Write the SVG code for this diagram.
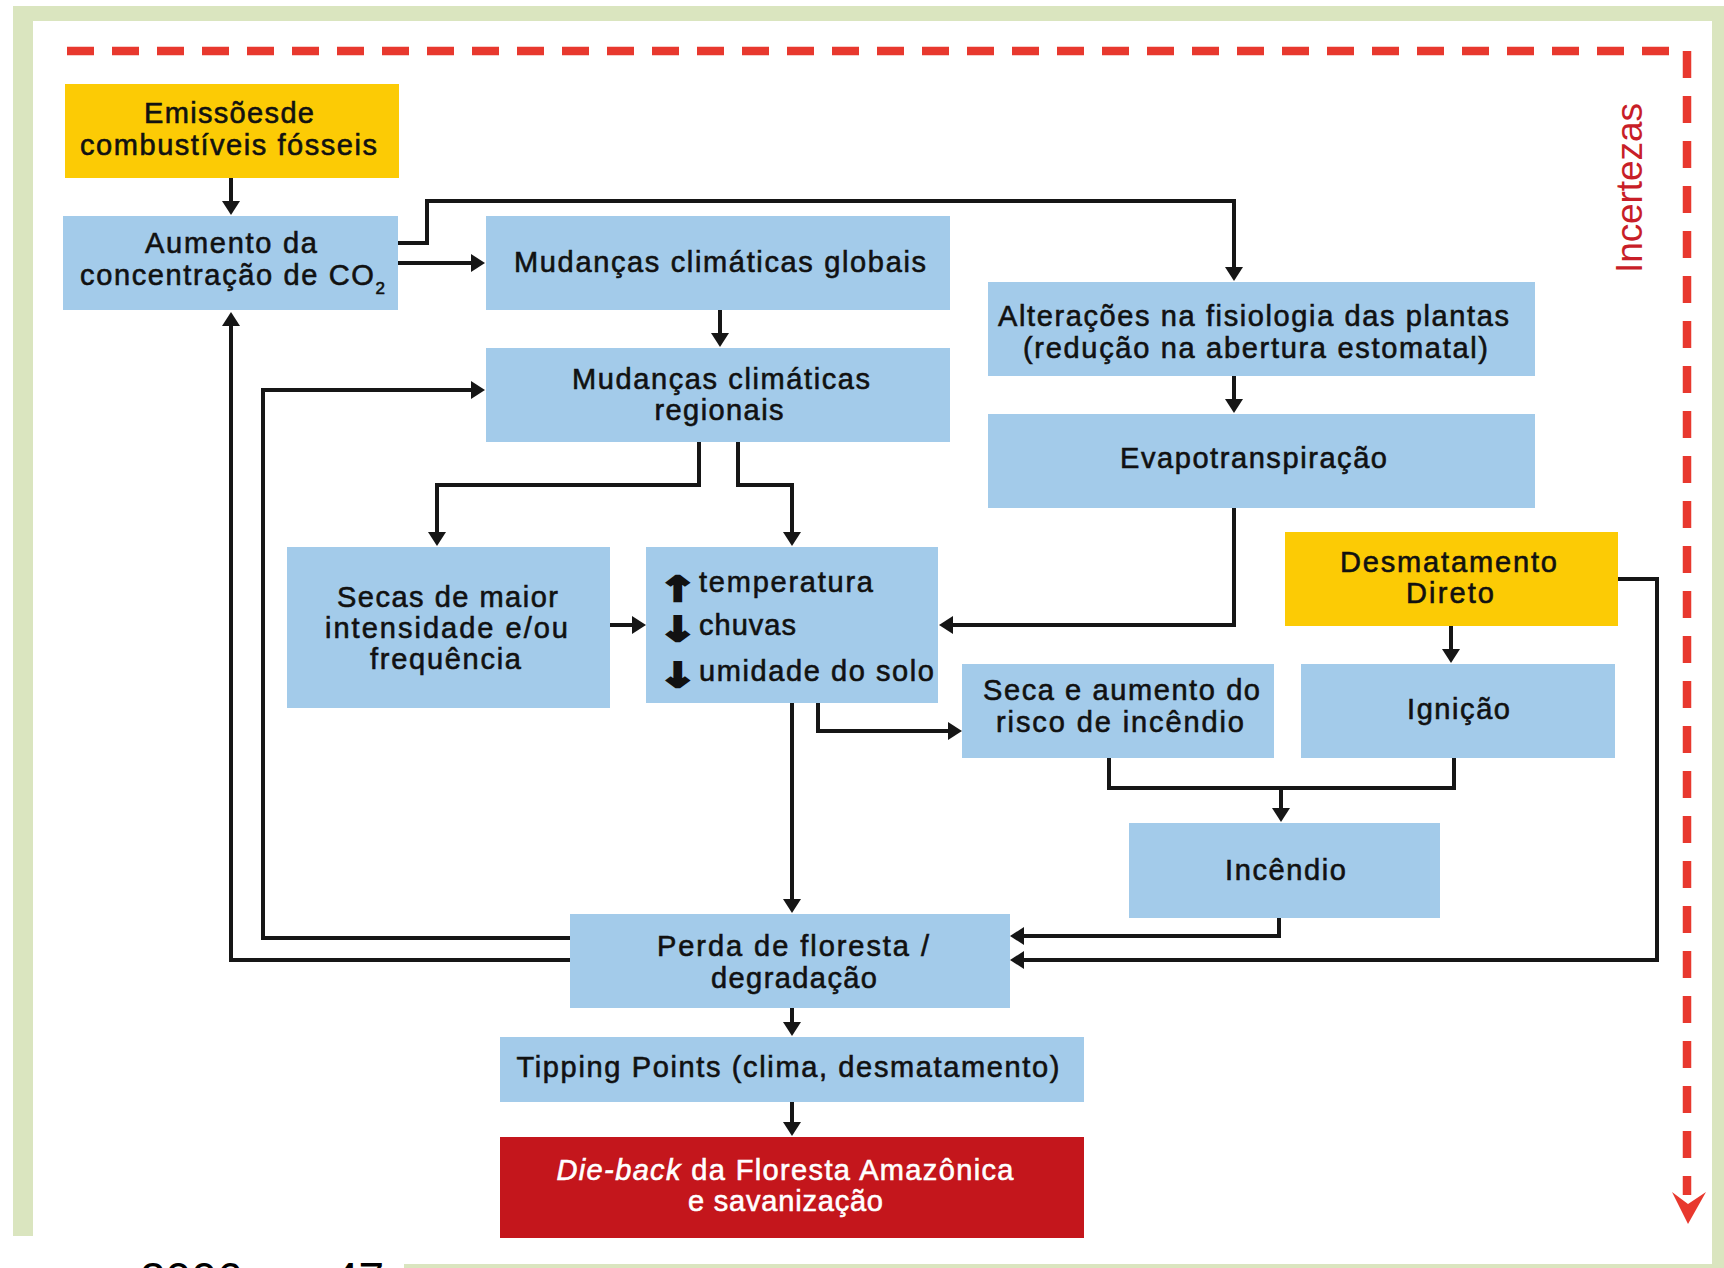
<svg xmlns="http://www.w3.org/2000/svg" width="1724" height="1268" viewBox="0 0 1724 1268">
<defs>
<style>
.blue{fill:#A3CBEA}
.yel{fill:#FCCB05}
.redbox{fill:#C4161C}
.frame{fill:#DAE5BF}
.t{font-family:"Liberation Sans",Arial,sans-serif;font-size:29px;fill:#111;stroke:#111;stroke-width:0.6px;text-anchor:middle}
.ts{font-family:"Liberation Sans",Arial,sans-serif;font-size:29px;fill:#111;stroke:#111;stroke-width:0.6px;text-anchor:start}
.wt{fill:#fff;stroke:#fff}
.arw{font-family:"DejaVu Sans",sans-serif;font-weight:bold;font-size:34px;fill:#111;stroke:#111;stroke-width:2.5px;text-anchor:middle}
.c{fill:none;stroke:#161616;stroke-width:4;stroke-linejoin:miter;stroke-linecap:butt}
.a{marker-end:url(#ah)}
.unc{fill:none;stroke:#E8382E;stroke-width:8.5;stroke-dasharray:27 18}
.inc{font-family:"Liberation Sans",Arial,sans-serif;font-size:37px;fill:#C81E28}
.foot{font-family:"Liberation Sans",Arial,sans-serif;font-size:46px;fill:#000}
</style>
<marker id="ah" markerUnits="userSpaceOnUse" markerWidth="14" markerHeight="18" viewBox="0 0 14 18" refX="6" refY="9" orient="auto">
<path d="M0,0 L14,9 L0,18 Z" fill="#161616"/>
</marker>
</defs>

<g id="frame">
<rect class="frame" x="13" y="6" width="1711" height="15"/>
<rect class="frame" x="13" y="6" width="20" height="1230"/>
<rect class="frame" x="1712" y="6" width="12" height="1262"/>
<rect class="frame" x="404" y="1264" width="1320" height="4"/>
</g>

<g id="incertezas">
<path class="unc" d="M67,51 H1687 V1195"/>
<polygon points="1672,1192 1688,1204 1706,1192 1688,1224" fill="#E8382E"/>
<text class="inc" transform="translate(1642,273) rotate(-90)" x="0" y="0" textLength="170" lengthAdjust="spacing">Incertezas</text>
</g>

<g id="connectors">
<path class="c a" d="M231,178 V207"/>
<path class="c a" d="M397,263 H477"/>
<path class="c a" d="M397,243 H427 V201 H1234 V273"/>
<path class="c a" d="M720,310 V339"/>
<path class="c a" d="M699,442 V485 H437 V538"/>
<path class="c a" d="M738,442 V485 H792 V538"/>
<path class="c a" d="M1234,376 V405"/>
<path class="c a" d="M1234,508 V625 H947"/>
<path class="c a" d="M610,625 H638"/>
<path class="c a" d="M818,703 V731 H954"/>
<path class="c a" d="M792,703 V905"/>
<path class="c" d="M1109,758 V788 H1454 V758"/>
<path class="c a" d="M1281,788 V814"/>
<path class="c a" d="M1451,626 V655"/>
<path class="c a" d="M1279,918 V936 H1018"/>
<path class="c a" d="M1618,579 H1657 V960 H1018"/>
<path class="c a" d="M570,960 H231 V320"/>
<path class="c a" d="M570,938 H263 V390 H477"/>
<path class="c a" d="M792,1008 V1028"/>
<path class="c a" d="M792,1102 V1128"/>
</g>

<g id="emissoes">
<rect class="yel" x="65" y="84" width="334" height="94"/>
<text class="t" x="229" y="123" textLength="170" lengthAdjust="spacing">Emissõesde</text>
<text class="t" x="228.5" y="155" textLength="297" lengthAdjust="spacing">combustíveis fósseis</text>
</g>

<g id="aumento-co2">
<rect class="blue" x="63" y="216" width="335" height="94"/>
<text class="t" x="231" y="253" textLength="172" lengthAdjust="spacing">Aumento da</text>
<text class="ts" x="80" y="285" textLength="305" lengthAdjust="spacing">concentração de CO<tspan font-size="17" dy="9">2</tspan></text>
</g>

<g id="mudancas-globais">
<rect class="blue" x="486" y="216" width="464" height="94"/>
<text class="t" x="720" y="272" textLength="412" lengthAdjust="spacing">Mudanças climáticas globais</text>
</g>

<g id="mudancas-regionais">
<rect class="blue" x="486" y="348" width="464" height="94"/>
<text class="t" x="721" y="389" textLength="298" lengthAdjust="spacing">Mudanças climáticas</text>
<text class="t" x="719" y="420" textLength="129" lengthAdjust="spacing">regionais</text>
</g>

<g id="alteracoes">
<rect class="blue" x="988" y="282" width="547" height="94"/>
<text class="t" x="1253.5" y="326" textLength="511" lengthAdjust="spacing">Alterações na fisiologia das plantas</text>
<text class="t" x="1255.5" y="358" textLength="465" lengthAdjust="spacing">(redução na abertura estomatal)</text>
</g>

<g id="evapotranspiracao">
<rect class="blue" x="988" y="414" width="547" height="94"/>
<text class="t" x="1253.5" y="468" textLength="267" lengthAdjust="spacing">Evapotranspiração</text>
</g>

<g id="secas">
<rect class="blue" x="287" y="547" width="323" height="161"/>
<text class="t" x="447.5" y="607" textLength="221" lengthAdjust="spacing">Secas de maior</text>
<text class="t" x="446.5" y="638" textLength="243" lengthAdjust="spacing">intensidade e/ou</text>
<text class="t" x="445.5" y="669" textLength="151" lengthAdjust="spacing">frequência</text>
</g>

<g id="clima-local">
<rect class="blue" x="646" y="547" width="292" height="156"/>
<text class="arw" transform="translate(678,601) scale(1.35,1)">↑</text>
<text class="arw" transform="translate(678,641) scale(1.35,1)">↓</text>
<text class="arw" transform="translate(678,687) scale(1.35,1)">↓</text>
<text class="ts" x="699" y="592" textLength="174" lengthAdjust="spacing">temperatura</text>
<text class="ts" x="699" y="635" textLength="97" lengthAdjust="spacing">chuvas</text>
<text class="ts" x="699" y="681" textLength="235" lengthAdjust="spacing">umidade do solo</text>
</g>

<g id="desmatamento">
<rect class="yel" x="1285" y="532" width="333" height="94"/>
<text class="t" x="1448.5" y="572" textLength="217" lengthAdjust="spacing">Desmatamento</text>
<text class="t" x="1450" y="603" textLength="88" lengthAdjust="spacing">Direto</text>
</g>

<g id="seca-risco">
<rect class="blue" x="962" y="664" width="312" height="94"/>
<text class="t" x="1121.5" y="700" textLength="277" lengthAdjust="spacing">Seca e aumento do</text>
<text class="t" x="1120" y="732" textLength="248" lengthAdjust="spacing">risco de incêndio</text>
</g>

<g id="ignicao">
<rect class="blue" x="1301" y="664" width="314" height="94"/>
<text class="t" x="1458.5" y="719" textLength="103" lengthAdjust="spacing">Ignição</text>
</g>

<g id="incendio">
<rect class="blue" x="1129" y="823" width="311" height="95"/>
<text class="t" x="1285.5" y="880" textLength="121" lengthAdjust="spacing">Incêndio</text>
</g>

<g id="perda-floresta">
<rect class="blue" x="570" y="914" width="440" height="94"/>
<text class="t" x="793" y="956" textLength="272" lengthAdjust="spacing">Perda de floresta /</text>
<text class="t" x="794" y="988" textLength="166" lengthAdjust="spacing">degradação</text>
</g>

<g id="tipping-points">
<rect class="blue" x="500" y="1037" width="584" height="65"/>
<text class="t" x="788" y="1077" textLength="543" lengthAdjust="spacing">Tipping Points (clima, desmatamento)</text>
</g>

<g id="die-back">
<rect class="redbox" x="500" y="1137" width="584" height="101"/>
<text class="t wt" x="785" y="1180" textLength="457" lengthAdjust="spacing"><tspan font-style="italic">Die-back</tspan> da Floresta Amazônica</text>
<text class="t wt" x="785.5" y="1211" textLength="195" lengthAdjust="spacing">e savanização</text>
</g>

<g id="footer">
<text class="foot" x="140" y="1295">2006</text>
<text class="foot" x="333" y="1295">47</text>
</g>
</svg>
